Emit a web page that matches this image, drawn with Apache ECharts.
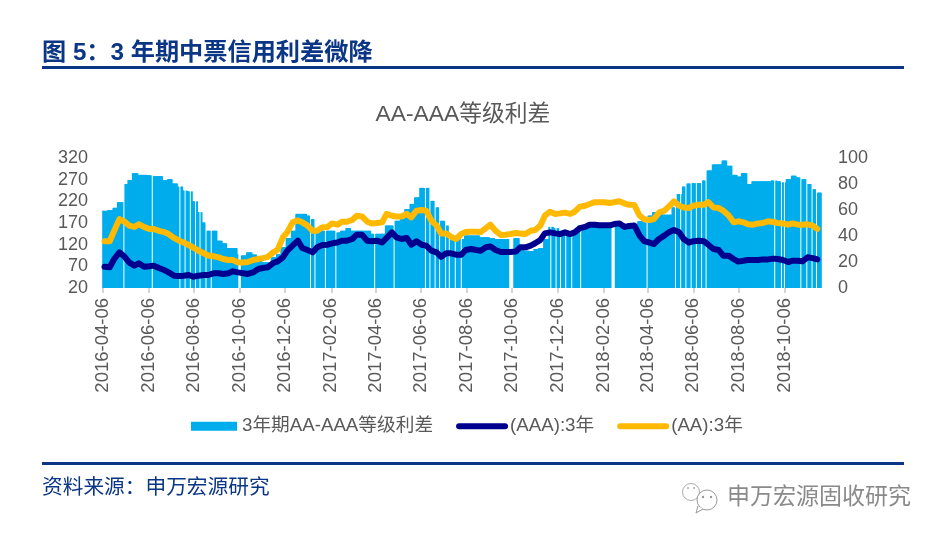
<!DOCTYPE html>
<html><head><meta charset="utf-8">
<style>html,body{margin:0;padding:0;background:#fff}#c{width:940px;height:539px}</style>
<script src="https://cdn.jsdelivr.net/npm/echarts@6/dist/echarts.min.js"></script>
</head><body><div id="c"></div>
<script>
const startDate='2016-04-06', endDate='2018-11-24';
const tickLabels=['2016-04-06','2016-06-06','2016-08-06','2016-10-06','2016-12-06','2017-02-06','2017-04-06','2017-06-06','2017-08-06','2017-10-06','2017-12-06','2018-02-06','2018-04-06','2018-06-06','2018-08-06','2018-10-06'];
const leftTicks=[20,320], rightTicks=[0,100];
const spreadWeekly=[198,200,205,218,260,269,285,281,281,280,278,278,269,271,261,254,245,243,220,195,171,152,152,129,123,112,112,98,95,102,97,83,79,79,91,98,114,135,152,191,191,187,179,152,152,152,152,148,152,158,152,152,152,152,145,145,145,164,164,175,179,202,214,229,251,251,221,206,175,164,137,129,133,141,
141,141,137,137,135,133,133,133,135,135,108,106,105,110,112,133,161,158,148,148,148,148,164,166,166,166,166,166,166,166,166,166,166,166,174,171,187,195,191,189,189,206,237,254,261,262,262,268,291,305,305,314,302,281,277,285,260,266,266,266,266,268,266,264,271,279,275,271,260,248,240];
const aaaWeekly=[16.4,16,22.3,27.4,24,19.7,17.2,19,16.4,16.7,17.2,15.4,13.8,12,9.5,9.2,9.5,10,8.7,9.5,10,10,11.3,11.3,10.8,11.3,12.8,12,11.3,10.8,12,14.6,15.4,16,19.2,20.5,23.6,28.7,32.6,36.4,30.8,29.2,27.4,31.3,33,33.3,34.4,35,36.4,36.4,37.7,41,41,36.4,36,36.4,35,38.5,42.8,39,37.7,38.5,33.3,36,33.3,32.6,28.7,27.4,24,26.7,26.7,25.6,25.6,29.2,
30,29.2,28.7,31.3,32,29.2,27.7,27.7,27.7,28,31.3,31.3,32.6,34.4,37,42,42.8,42,41.5,42.8,41.5,42.8,46,47,48.7,48.7,48.2,48.2,48.2,49.2,49.7,47,47.7,48,40.3,36,35,33.8,37.7,40.3,42.8,44.6,42.8,37.7,35,36,36.4,36,33.3,30,29.2,24.9,24.9,22.3,20.3,21,21.5,21.5,21.5,22,22,22.6,22.3,21.5,20,21,21,20.5,23.6,23,22];
const aaWeekly=[36,36,44,53,51,48,47,49,47,45.4,45.4,44,43,41.5,38.5,36.4,35,33,31,28.7,26.7,25,24.4,23.6,22.3,21.5,21.5,19.7,19.7,20,21.5,22.3,23,24,27.4,29.5,39,43,50.5,52,50.5,48,44,44,46.7,47,49.7,48.7,51,51,52.3,55.6,55,51,49.7,50,50.5,57,55.6,55,55,57,54.4,59.5,60,59.5,51.8,48,42,42,39.5,37.7,41.5,43,
43.3,43.3,43,46,48.7,44,40.8,41,41.5,42.3,42,41.5,44,44.6,48,55.6,58.7,57,57.4,58,57,58.7,62.6,63.3,64.6,66,66,66,65.4,66,66.7,65,64,63.8,55.6,53,52.3,53,58,59.5,62.6,66.7,63.3,62,61.5,63.3,64,64,66,62,61.5,59.5,56,50.5,51.3,50.5,49,48.7,49.7,50,51.3,50.8,50,49.7,48.7,49.7,48.7,48.7,49,48,45.4];
/* days with no spread observation, as [day offset from start, number of days] */
const gaps=[[27,3],[65,3],[102,3],[109,3],[116,3],[123,3],[129,3],[137,3],[144,3],[181,5],[277,3],[283,3],[297,3],[311,3],[363,3],[389,3],[431,3],[437,3],[444,3],[450,3],[458,3],[463,3],[471,3],[479,3],[544,7],[599,3],[606,3],[612,3],[619,3],[627,3],[639,3],[681,6],[728,3],[766,3],[773,3],[780,3],[787,3],[794,3],[801,3],[807,3],[899,3],[908,3],[912,3],[934,3],[942,3],[949,3],[955,3]];

const categories=[];
for(let t=Date.parse(startDate+'T00:00:00Z');t<=Date.parse(endDate+'T00:00:00Z');t+=86400000){categories.push(new Date(t).toISOString().slice(0,10));}
const nDays=categories.length, nBins=spreadWeekly.length, step=(nDays-1)/nBins;
const gapSet=new Set();gaps.forEach(g=>{for(let i=0;i<g[1];i++)gapSet.add(g[0]+i);});
const barData=categories.map((_,d)=>gapSet.has(d)?null:spreadWeekly[Math.min(nBins-1,Math.floor(d/step))]);
const toPairs=a=>a.map((v,i)=>[Math.round((i+0.3)*(nDays-1)/a.length),v]);
const isTick=(i,v)=>tickLabels.includes(v);
const font='"Liberation Sans","Noto Sans CJK SC",sans-serif';
const navy='#0B3585', gray='#595959';
const lineIcon='path://M0 0L0 0M0 4.5H46M46 9L46 9';

const chart=echarts.init(document.getElementById('c'),null,{renderer:'canvas'});
chart.setOption({
 animation:false,
 title:{text:'AA-AAA等级利差',left:458,top:98,textAlign:'center',textStyle:{color:gray,fontSize:22.8,fontWeight:'normal',fontFamily:font}},
 legend:{left:186,top:412,itemGap:23,itemWidth:46,itemHeight:9,symbolKeepAspect:false,textStyle:{color:gray,fontSize:18.7,fontFamily:font,padding:[0,0,0,0]},
  data:[{name:'3年期AA-AAA等级利差',icon:'rect'},
   {name:'(AAA):3年',icon:lineIcon,itemStyle:{borderColor:'#00008F',borderWidth:6,borderCap:'round'}},
   {name:'(AA):3年',icon:lineIcon,itemStyle:{borderColor:'#FFB900',borderWidth:6,borderCap:'round'}}]},
 grid:{left:103,top:158,width:718,height:130,containLabel:false},
 xAxis:{type:'category',data:categories,boundaryGap:false,
  axisLine:{show:false},
  axisTick:{show:true,interval:isTick,length:5,lineStyle:{color:'#c8c8c8',width:1.5},alignWithLabel:true},
  axisLabel:{interval:isTick,rotate:90,color:gray,fontSize:18.5,fontFamily:font,margin:10,hideOverlap:false}},
 yAxis:[
  {type:'value',min:leftTicks[0],max:leftTicks[1],interval:50,axisLine:{show:false},axisTick:{show:false},splitLine:{show:false},axisLabel:{color:gray,fontSize:18,fontFamily:font,margin:15,padding:[3,0,0,0]}},
  {type:'value',min:rightTicks[0],max:rightTicks[1],interval:20,position:'right',axisLine:{show:false},axisTick:{show:false},splitLine:{show:false},axisLabel:{color:gray,fontSize:18,fontFamily:font,margin:17,padding:[3,0,0,0]}}
 ],
 series:[
  {name:'3年期AA-AAA等级利差',type:'bar',data:barData,barWidth:2,itemStyle:{color:'#00ADEC'},yAxisIndex:0,silent:true},
  {name:'(AAA):3年',type:'line',yAxisIndex:1,data:toPairs(aaaWeekly),showSymbol:false,symbol:'none',lineStyle:{color:'#00008F',width:6,cap:'round',join:'round'},itemStyle:{color:'#00008F'},silent:true},
  {name:'(AA):3年',type:'line',yAxisIndex:1,data:toPairs(aaWeekly),showSymbol:false,symbol:'none',lineStyle:{color:'#FFB900',width:6,cap:'round',join:'round'},itemStyle:{color:'#FFB900'},silent:true}
 ],
 graphic:[
  {type:'text',left:42,top:41,style:{text:'图 5：3 年期中票信用利差微降',fill:navy,font:'bold 24.2px '+font}},
  {type:'rect',shape:{x:42,y:66,width:862,height:3},style:{fill:navy}},
  {type:'rect',shape:{x:42,y:462,width:862,height:3},style:{fill:navy}},
  {type:'text',left:42,top:478,style:{text:'资料来源：申万宏源研究',fill:navy,font:'20.7px '+font}},
  {type:'text',left:727,top:486,style:{text:'申万宏源固收研究',fill:'#8a8a8a',font:'23px '+font}},
  {type:'circle',shape:{cx:691,cy:492,r:8.5},style:{fill:'#fff',stroke:'#aaa',lineWidth:1}},
  {type:'circle',shape:{cx:707,cy:500,r:10},style:{fill:'#fff',stroke:'#999',lineWidth:1}},
  {type:'polyline',shape:{points:[[698,506],[696,513],[703,509]]},style:{fill:'#fff',stroke:'#999',lineWidth:1}},
  {type:'circle',shape:{cx:703,cy:497,r:1.2},style:{fill:'#999'}},
  {type:'circle',shape:{cx:711,cy:497,r:1.2},style:{fill:'#999'}},
  {type:'circle',shape:{cx:688,cy:488,r:1},style:{fill:'#aaa'}},
  {type:'circle',shape:{cx:694,cy:488,r:1},style:{fill:'#aaa'}}
 ]
});
</script></body></html>
